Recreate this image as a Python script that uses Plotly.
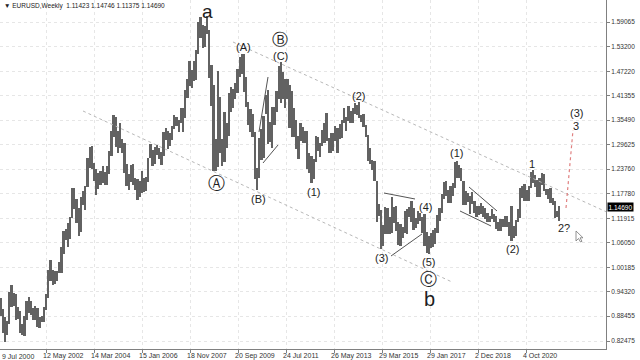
import plotly.graph_objects as go
import pandas as pd

# ---------------- data (EURUSD monthly ranges, read/estimated) ----------------
months = pd.date_range("2000-07-01", periods=259, freq="MS")

monthly_high = [
    # 2000 Jul-Dec
    0.9596, 0.9280, 0.9020, 0.8830, 0.8720, 0.9420,
    # 2001
    0.9590, 0.9400, 0.9370, 0.9060, 0.8960, 0.8660, 0.8850, 0.9200, 0.9300, 0.9200, 0.9050, 0.9100,
    # 2002
    0.9040, 0.8820, 0.8850, 0.9070, 0.9380, 0.9950, 1.0200, 0.9950, 0.9940, 0.9930, 1.0150, 1.0500,
    # 2003
    1.0880, 1.0940, 1.1080, 1.1230, 1.1930, 1.1930, 1.1650, 1.1450, 1.1700, 1.1840, 1.1980, 1.2650,
    # 2004
    1.2900, 1.2930, 1.2510, 1.2380, 1.2280, 1.2320, 1.2440, 1.2310, 1.2440, 1.2810, 1.3300, 1.3670,
    # 2005
    1.3620, 1.3290, 1.3480, 1.3090, 1.2990, 1.2490, 1.2260, 1.2480, 1.2500, 1.2150, 1.2130, 1.2100,
    # 2006
    1.2320, 1.2170, 1.2180, 1.2640, 1.2980, 1.2840, 1.2910, 1.2950, 1.2890, 1.2780, 1.3260, 1.3370,
    # 2007
    1.3280, 1.3230, 1.3420, 1.3680, 1.3620, 1.3550, 1.3850, 1.3850, 1.4280, 1.4530, 1.4970, 1.4760,
    # 2008
    1.4970, 1.5240, 1.5900, 1.6020, 1.5840, 1.5810, 1.6040, 1.5710, 1.4880, 1.4400, 1.3090, 1.4720,
    # 2009
    1.4100, 1.3100, 1.3740, 1.3490, 1.4190, 1.4340, 1.4290, 1.4450, 1.4790, 1.5060, 1.5140, 1.5140,
    # 2010
    1.4580, 1.3990, 1.3820, 1.3690, 1.3270, 1.2390, 1.3120, 1.3330, 1.3650, 1.4160, 1.4280, 1.3500,
    # 2011
    1.3860, 1.3860, 1.4250, 1.4840, 1.4940, 1.4700, 1.4540, 1.4550, 1.4400, 1.4250, 1.3840, 1.3550,
    # 2012
    1.3170, 1.3490, 1.3390, 1.3290, 1.3280, 1.2750, 1.2690, 1.2610, 1.3170, 1.3140, 1.3010, 1.3310,
    # 2013
    1.3480, 1.3710, 1.3130, 1.3240, 1.3240, 1.3420, 1.3350, 1.3450, 1.3560, 1.3830, 1.3620, 1.3890,
    # 2014
    1.3770, 1.3830, 1.3970, 1.3910, 1.3990, 1.3680, 1.3700, 1.3440, 1.3200, 1.2890, 1.2600, 1.2570,
    # 2015
    1.2100, 1.1530, 1.1390, 1.1040, 1.1470, 1.1440, 1.1220, 1.1710, 1.1460, 1.1500, 1.1100, 1.1050,
    # 2016
    1.0990, 1.1380, 1.1410, 1.1460, 1.1620, 1.1430, 1.1190, 1.1370, 1.1330, 1.1230, 1.1300, 1.0870,
    # 2017
    1.0770, 1.0830, 1.0910, 1.0950, 1.1270, 1.1450, 1.1780, 1.2070, 1.2090, 1.1880, 1.1960, 1.2030,
    # 2018
    1.2540, 1.2560, 1.2480, 1.2410, 1.2100, 1.1850, 1.1790, 1.1740, 1.1820, 1.1620, 1.1500, 1.1490,
    # 2019
    1.1570, 1.1490, 1.1450, 1.1320, 1.1260, 1.1410, 1.1290, 1.1250, 1.1110, 1.1180, 1.1180, 1.1240,
    # 2020
    1.1240, 1.1100, 1.1500, 1.1000, 1.1150, 1.1420, 1.1910, 1.1970, 1.2010, 1.1880, 1.1960, 1.2310,
    # 2021
    1.2350, 1.2240, 1.2110, 1.2150, 1.2270, 1.2250, 1.1900, 1.1900, 1.1910, 1.1690, 1.1610, 1.1380,
    # 2022 Jan
    1.1483,
]

monthly_low = [
    # 2000 Jul-Dec
    0.9190, 0.8840, 0.8440, 0.8228, 0.8400, 0.8650,
    # 2001
    0.9060, 0.9100, 0.8750, 0.8780, 0.8430, 0.8400, 0.8370, 0.8750, 0.8930, 0.8880, 0.8740, 0.8760,
    # 2002
    0.8580, 0.8560, 0.8700, 0.8700, 0.8990, 0.9290, 0.9690, 0.9600, 0.9610, 0.9700, 0.9880, 0.9870,
    # 2003
    1.0330, 1.0670, 1.0500, 1.0690, 1.1210, 1.1410, 1.1080, 1.0760, 1.0870, 1.1520, 1.1400, 1.1950,
    # 2004
    1.2400, 1.2380, 1.2080, 1.1760, 1.1900, 1.1990, 1.2040, 1.2000, 1.2000, 1.2250, 1.2680, 1.3140,
    # 2005
    1.2910, 1.2760, 1.2880, 1.2760, 1.2290, 1.1960, 1.1870, 1.2060, 1.1990, 1.1870, 1.1640, 1.1710,
    # 2006
    1.1800, 1.1830, 1.1860, 1.2060, 1.2630, 1.2460, 1.2490, 1.2720, 1.2620, 1.2480, 1.2690, 1.3070,
    # 2007
    1.2860, 1.2920, 1.3080, 1.3330, 1.3400, 1.3260, 1.3480, 1.3260, 1.3600, 1.4090, 1.4380, 1.4330,
    # 2008
    1.4500, 1.4510, 1.5130, 1.5520, 1.5290, 1.5300, 1.5610, 1.4570, 1.3880, 1.2330, 1.2330, 1.2420,
    # 2009
    1.2760, 1.2460, 1.2540, 1.2880, 1.3170, 1.3750, 1.3850, 1.4050, 1.4200, 1.4580, 1.4650, 1.4220,
    # 2010
    1.3860, 1.3430, 1.3270, 1.3140, 1.2140, 1.1880, 1.2150, 1.2590, 1.2640, 1.3690, 1.2970, 1.3030,
    # 2011
    1.2870, 1.3440, 1.3740, 1.4060, 1.3970, 1.4050, 1.3840, 1.4050, 1.3360, 1.3150, 1.3140, 1.2860,
    # 2012
    1.2620, 1.3060, 1.3010, 1.2990, 1.2380, 1.2290, 1.2040, 1.2130, 1.2550, 1.2800, 1.2660, 1.2920,
    # 2013
    1.3000, 1.3040, 1.2750, 1.2750, 1.2800, 1.3060, 1.2750, 1.3090, 1.3110, 1.3490, 1.3300, 1.3520,
    # 2014
    1.3480, 1.3480, 1.3700, 1.3670, 1.3590, 1.3500, 1.3390, 1.3150, 1.2570, 1.2500, 1.2360, 1.2100,
    # 2015
    1.1100, 1.1260, 1.0460, 1.0520, 1.0820, 1.0810, 1.0810, 1.0850, 1.1090, 1.0900, 1.0560, 1.0520,
    # 2016
    1.0710, 1.0850, 1.0820, 1.1230, 1.1100, 1.0910, 1.0950, 1.1050, 1.1120, 1.0850, 1.0520, 1.0350,
    # 2017
    1.0340, 1.0490, 1.0500, 1.0570, 1.0840, 1.1120, 1.1310, 1.1660, 1.1720, 1.1570, 1.1550, 1.1720,
    # 2018
    1.1920, 1.2150, 1.2160, 1.2080, 1.1510, 1.1510, 1.1580, 1.1300, 1.1530, 1.1330, 1.1220, 1.1270,
    # 2019
    1.1290, 1.1230, 1.1180, 1.1110, 1.1110, 1.1180, 1.1100, 1.0930, 1.0880, 1.0880, 1.0990, 1.0980,
    # 2020
    1.0990, 1.0780, 1.0640, 1.0730, 1.0760, 1.1110, 1.1190, 1.1690, 1.1610, 1.1610, 1.1600, 1.1920,
    # 2021
    1.2050, 1.1950, 1.1700, 1.1700, 1.1990, 1.1840, 1.1750, 1.1660, 1.1560, 1.1520, 1.1190, 1.1220,
    # 2022 Jan
    1.1121,
]

price_ticks = [1.59065, 1.53200, 1.47220, 1.41355, 1.35490, 1.29625, 1.23760,
               1.17780, 1.11915, 1.06050, 1.00185, 0.94320, 0.88455, 0.82475]

date_ticks = ["2000-07-09", "2002-05-12", "2004-03-14", "2006-01-15", "2007-11-18",
              "2009-09-20", "2011-07-24", "2013-05-26", "2015-03-29", "2017-01-29",
              "2018-12-02", "2020-10-04"]
date_tick_labels = ["9 Jul 2000", "12 May 2002", "14 Mar 2004", "15 Jan 2006", "18 Nov 2007",
                    "20 Sep 2009", "24 Jul 2011", "26 May 2013", "29 Mar 2015", "29 Jan 2017",
                    "2 Dec 2018", "4 Oct 2020"]

last_price = 1.14690
header_text = "▼ EURUSD,Weekly  1.11423 1.14746 1.11375 1.14690"

# wave labels: (text, date, price, font size)
wave_labels = [
    ("a", "2008-07-13", 1.6170, 19),
    ("Ⓐ", "2008-11-16", 1.2041, 17),
    ("(A)", "2009-11-29", 1.5306, 11),
    ("Ⓑ", "2011-05-01", 1.5480, 16),
    ("(C)", "2011-05-01", 1.5080, 11),
    ("(B)", "2010-06-27", 1.1657, 11),
    ("(1)", "2012-08-05", 1.1825, 11),
    ("(2)", "2014-04-27", 1.4130, 11),
    ("(3)", "2015-03-15", 1.0240, 11),
    ("(4)", "2016-11-20", 1.1465, 11),
    ("(5)", "2017-01-01", 1.0144, 11),
    ("Ⓒ", "2017-01-01", 0.9736, 17),
    ("b", "2017-01-15", 0.9256, 20),
    ("(1)", "2018-01-28", 1.2761, 11),
    ("(2)", "2020-03-22", 1.0457, 11),
    ("1", "2020-12-27", 1.2497, 11),
    ("2?", "2022-03-20", 1.0961, 11),
    ("(3)", "2022-09-04", 1.3720, 11),
    ("3", "2022-09-04", 1.3420, 11),
]

# drawn lines: (x0, y0, x1, y1, kind)
drawn_lines = [
    ("2009-07-12", 1.5426, "2023-10-29", 1.1352, "channel"),
    ("2003-10-12", 1.3770, "2017-12-03", 0.9664, "channel"),
    ("2010-07-11", 1.3266, "2010-11-14", 1.4586, "trend"),
    ("2010-09-05", 1.2521, "2011-04-03", 1.2953, "trend"),
    ("2015-04-26", 1.1801, "2016-07-03", 1.1657, "trend"),
    ("2015-08-02", 1.0288, "2016-10-09", 1.0817, "trend"),
    ("2018-07-29", 1.1945, "2019-08-25", 1.1369, "trend"),
    ("2018-03-25", 1.1369, "2019-06-02", 1.1009, "trend"),
    ("2022-04-17", 1.1441, "2022-07-24", 1.3314, "projection"),
]

assert len(monthly_high) == len(monthly_low) == len(months)

# ---------------- figure ----------------
AX_FONT = dict(family="Liberation Sans, Arial, sans-serif", size=6.5, color="#333333")
X_FONT = dict(family="Liberation Sans, Arial, sans-serif", size=7, color="#333333")

fig = go.Figure()
fig.add_trace(go.Bar(
    x=months,
    base=monthly_low,
    y=[h - l for h, l in zip(monthly_high, monthly_low)],
    xperiod="M1", xperiodalignment="middle",
    width=25 * 86400000,
    marker=dict(color="#626262", line=dict(width=0)),
    hoverinfo="skip",
))

styles = {
    "channel": dict(color="#b8b8b8", width=1, dash="dot"),
    "trend": dict(color="#555555", width=1),
    "projection": dict(color="#e08080", width=1.2, dash="dot"),
}
for x0, y0, x1, y1, kind in drawn_lines:
    fig.add_shape(type="line", xref="x", yref="y", x0=x0, y0=y0, x1=x1, y1=y1,
                  line=styles[kind], layer="above")

for text, d, p, s in wave_labels:
    fam = "DejaVu Sans, sans-serif" if text in ("Ⓐ", "Ⓑ", "Ⓒ") else "Liberation Sans, Arial, sans-serif"
    fig.add_annotation(x=d, y=p, xref="x", yref="y", text=text, showarrow=False,
                       font=dict(family=fam, size=s, color="#1e1e1e"),
                       xanchor="center", yanchor="middle")

# header
fig.add_annotation(x=0.004, y=0.999, xref="paper", yref="paper", text=header_text,
                   showarrow=False, xanchor="left", yanchor="top",
                   font=dict(family="Liberation Sans, Arial, sans-serif", size=6.5, color="#222222"))
# last price marker
fig.add_annotation(x=1, y=last_price, xref="paper", yref="y", text=f"{last_price:.5f}",
                   showarrow=False, xanchor="left", yanchor="middle", xshift=1,
                   bgcolor="#000000", borderpad=0.5,
                   font=dict(family="Liberation Sans, Arial, sans-serif", size=6.5, color="#ffffff"))
# first date label (its tick sits just left of the visible range)
fig.add_annotation(x=0, y=0, xref="paper", yref="paper", text=date_tick_labels[0],
                   showarrow=False, xanchor="left", yanchor="top", yshift=-2,
                   font=X_FONT)

# mouse cursor
cur = [(576, 231), (576, 241), (578.5, 238.5), (580.5, 242), (582, 241.3), (580, 237.8), (583, 237.8)]
path = "M " + " L ".join(f"{x/606:.5f},{1 - y/349:.5f}" for x, y in cur) + " Z"
fig.add_shape(type="path", xref="paper", yref="paper", path=path,
              line=dict(color="#777777", width=0.8), fillcolor="#ffffff", layer="above")

fig.update_layout(
    width=640, height=360,
    margin=dict(l=0, r=34, t=0, b=11),
    paper_bgcolor="white", plot_bgcolor="white",
    showlegend=False, bargap=0,
    xaxis=dict(
        type="date",
        range=["2000-08-06", "2023-10-29"],
        tickvals=date_ticks[1:], ticktext=date_tick_labels[1:],
        tickangle=0,
        ticks="outside", ticklen=3, tickcolor="#808080",
        ticklabelposition="outside right", ticklabelshift=-4,
        tickfont=X_FONT,
        showgrid=True, gridcolor="#e6e6e6", griddash="dot", gridwidth=1,
        showline=True, linecolor="#808080", linewidth=1, mirror=True,
        zeroline=False, fixedrange=True,
    ),
    yaxis=dict(
        side="right",
        range=[0.80555, 1.64347],
        tickvals=price_ticks, ticktext=[f"{v:.5f}" for v in price_ticks],
        ticks="outside", ticklen=3, tickcolor="#808080",
        tickfont=AX_FONT,
        showgrid=True, gridcolor="#e6e6e6", griddash="dot", gridwidth=1,
        showline=True, linecolor="#808080", linewidth=1, mirror=True,
        zeroline=False, fixedrange=True,
    ),
)

fig.write_html("out.html")
